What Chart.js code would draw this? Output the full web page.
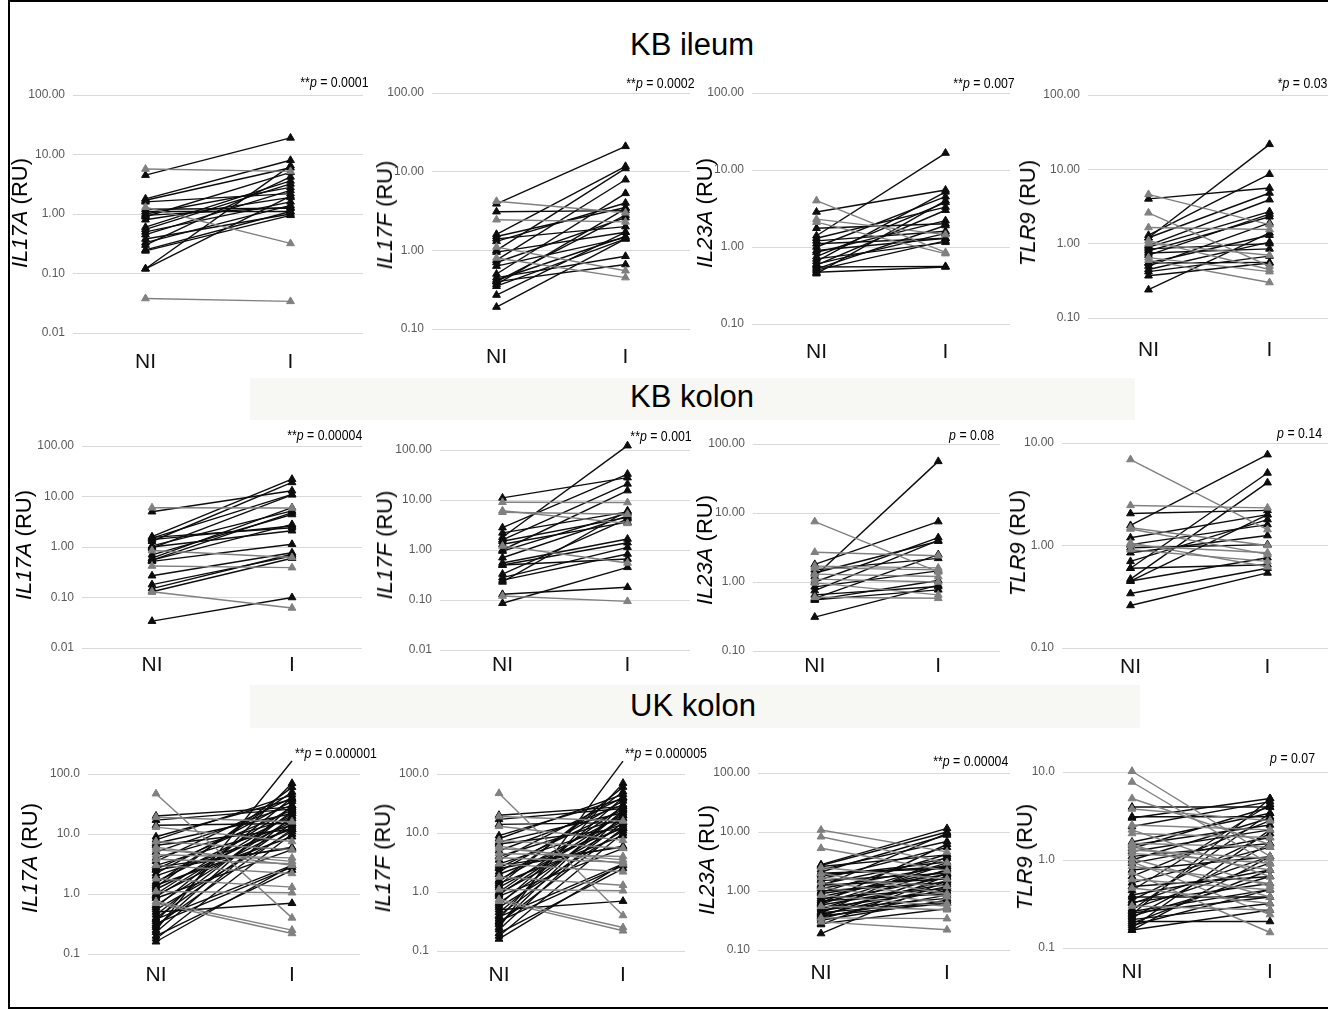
<!DOCTYPE html>
<html>
<head>
<meta charset="utf-8">
<title>IL17A, IL17F, IL23A, TLR9</title>
<script src="https://cdn.jsdelivr.net/npm/chart.js@4.4.1/dist/chart.umd.min.js"></script>
<style>
  html, body { margin: 0; padding: 0; background: #fff; }
  body { position: relative; width: 1328px; height: 1010px; overflow: hidden;
         font-family: "Liberation Sans", Arial, sans-serif; color: #000; }
  .frame { position: absolute; left: 8px; top: 0; width: 1400px; height: 1009px;
           border: 2px solid #000; box-sizing: border-box; }
  .band { position: absolute; background: #f7f7f3; }
  .title { position: absolute; transform: translate(-50%, -50%); font-size: 31px; white-space: nowrap; }
  .ytitle { position: absolute; transform: translate(-50%, -50%) rotate(-90deg);
            font-size: 22px; white-space: nowrap; }
  .pval { position: absolute; font-size: 14px; white-space: nowrap; }
  .pval.r { transform: translateY(-50%) scaleX(0.88); transform-origin: right center; }
  .pval.l { transform: translateY(-50%) scaleX(0.88); transform-origin: left center; }
  canvas { position: absolute; }
</style>
</head>
<body>
<div class="frame"></div>
<div class="band" style="left:250px;top:378px;width:885px;height:42px"></div>
<div class="band" style="left:250px;top:685px;width:890px;height:43px"></div>
<div class="title" style="left:692px;top:45px">KB ileum</div>
<div class="title" style="left:692px;top:397px">KB kolon</div>
<div class="title" style="left:693px;top:706px">UK kolon</div>

<script>
const conditions = ['NI', 'I'];

// y-axis decades
const decades5 = [0.01, 0.1, 1, 10, 100];
const decades4 = [0.1, 1, 10, 100];
const decades3 = [0.1, 1, 10];

const pValues = ['**p = 0.0001', '**p = 0.0002', '**p = 0.007', '*p = 0.03',
                 '**p = 0.00004', '**p = 0.001', 'p = 0.08', 'p = 0.14',
                 '**p = 0.000001', '**p = 0.000005', '**p = 0.00004', 'p = 0.07'];

// KB ileum
const ileumIL17A_NI = [4.5, 5.7, 1.8, 1.7, 1.6, 1.3, 1.1, 1.0, 0.95, 0.9, 0.8, 0.55, 0.5, 0.45, 0.38, 0.33, 0.3, 0.25, 0.24, 0.12, 0.12, 0.038, 1.2, 0.6];
const ileumIL17A_I  = [19, 5.2, 8.0, 6.0, 2.2, 0.32, 1.1, 2.8, 1.3, 5.0, 1.9, 3.2, 1.6, 2.5, 1.0, 1.4, 4.2, 1.1, 0.95, 6.5, 2.0, 0.034, 1.25, 3.6];

const ileumIL17F_NI = [3.9, 4.2, 3.1, 2.45, 1.6, 1.5, 1.4, 1.3, 1.1, 1.0, 0.95, 0.8, 0.75, 0.7, 0.63, 0.5, 0.45, 0.42, 0.4, 0.37, 0.35, 0.27, 0.19, 0.4];
const ileumIL17F_I  = [21, 3.0, 3.2, 2.3, 11.7, 3.5, 2.0, 4.0, 0.55, 11, 1.7, 0.45, 7.9, 2.6, 1.45, 5.3, 0.84, 1.5, 0.66, 3.4, 1.4, 1.7, 1.4, 2.8];

const ileumIL23A_NI = [1.4, 2.85, 4.0, 2.3, 2.1, 1.75, 1.3, 1.2, 1.0, 0.9, 0.85, 0.75, 0.7, 0.65, 0.6, 0.58, 0.52, 0.5, 0.47, 0.45, 0.55, 1.1];
const ileumIL23A_I  = [16.6, 5.5, 0.85, 1.45, 0.82, 2.0, 3.3, 1.6, 4.5, 1.3, 2.2, 3.8, 1.15, 5.2, 1.5, 3.0, 1.9, 1.2, 0.55, 4.0, 0.56, 1.3];

const ileumTLR9_NI = [1.2, 4.0, 4.6, 2.6, 1.65, 1.3, 1.2, 1.1, 0.95, 0.9, 0.85, 0.8, 0.75, 0.65, 0.6, 0.55, 0.55, 0.5, 0.45, 0.42, 0.37, 0.24, 0.7, 1.0];
const ileumTLR9_I  = [21.7, 5.6, 1.8, 0.5, 1.55, 8.6, 4.8, 0.45, 3.9, 2.7, 1.0, 2.3, 0.85, 0.42, 0.3, 1.3, 0.56, 1.9, 1.05, 0.68, 0.55, 1.4, 2.5, 0.7];

// KB kolon
const kbIL17A_NI = [5.0, 6.0, 1.6, 1.55, 1.5, 1.3, 1.05, 1.0, 0.95, 0.85, 0.7, 0.6, 0.55, 0.55, 0.52, 0.42, 0.27, 0.18, 0.15, 0.13, 0.13, 0.034, 1.4];
const kbIL17A_I  = [13, 5.9, 22, 2.4, 11, 19, 5.2, 2.1, 10.8, 0.62, 4.4, 6.0, 2.8, 4.8, 1.13, 0.39, 0.77, 0.66, 0.72, 0.6, 0.062, 0.1, 2.6];

const kbIL17F_NI = [11, 9.0, 6.1, 5.7, 2.8, 2.2, 1.8, 1.6, 1.5, 1.2, 1.0, 0.95, 0.7, 0.55, 0.5, 0.5, 0.33, 0.28, 0.25, 0.23, 0.13, 0.12, 0.086, 1.3];
const kbIL17F_I  = [28, 8.9, 3.4, 5.2, 33, 5.8, 122, 21, 4.5, 0.55, 15.4, 5.5, 4.8, 1.66, 0.66, 1.4, 4.2, 1.13, 0.83, 6.1, 0.18, 0.094, 0.45, 3.6];

const kbIL23A_NI = [1.2, 7.5, 2.7, 1.8, 1.7, 1.5, 1.35, 1.3, 1.1, 1.0, 0.97, 0.85, 0.75, 0.65, 0.6, 0.58, 0.55, 0.55, 0.31, 1.6];
const kbIL23A_I  = [56, 1.4, 2.4, 7.5, 1.6, 2.2, 3.9, 1.2, 1.0, 4.4, 0.65, 1.45, 4.0, 0.86, 0.58, 2.5, 1.05, 0.77, 0.9, 1.5];

const kbTLR9_NI = [6.9, 2.46, 2.05, 1.57, 1.49, 1.45, 1.19, 1.06, 1.02, 0.91, 0.85, 0.70, 0.6, 0.6, 0.47, 0.45, 0.45, 0.34, 0.26, 1.0, 0.95];
const kbTLR9_I  = [1.43, 2.33, 2.2, 7.7, 1.0, 0.82, 2.0, 0.62, 1.6, 0.7, 1.25, 1.79, 5.1, 0.65, 4.1, 2.0, 0.76, 0.6, 0.54, 0.85, 1.02];

// UK kolon
const ukIL17A_NI = [47, 20, 19, 17, 14, 13, 8, 7.5, 7, 6.5, 5.5, 5, 4.5, 4, 3.8, 3.5, 3, 3, 2.6, 2.5, 2.2, 2, 1.8, 1.6, 1.5, 1.4, 1.2, 1.1, 1.0, 0.95, 0.9, 0.85, 0.75, 0.7, 0.65, 0.6, 0.55, 0.5, 0.45, 0.4, 0.38, 0.35, 0.32, 0.3, 0.28, 0.25, 0.23, 0.2, 0.18, 0.16, 1.3, 2.8, 9, 6];
const ukIL17A_I  = [0.4, 28, 16, 26, 15, 7.5, 45, 5.5, 22, 12, 3.5, 30, 4.0, 18, 3.2, 40, 2.2, 14, 25, 6, 35, 12, 1.3, 20, 50, 9, 16, 1.05, 28, 13, 22, 5.5, 0.25, 0.22, 18, 40, 11, 0.7, 24, 15, 3, 70, 2.8, 12, 30, 165, 20, 2.5, 10, 3.0, 60, 5.8, 38, 3.0];

const ukIL17F_NI = [47, 20, 19, 17, 14, 13, 8, 7.5, 7, 6.5, 5.5, 5, 4.5, 4, 3.8, 3.5, 3, 3, 2.6, 2.5, 2.2, 2, 1.8, 1.6, 1.5, 1.4, 1.2, 1.1, 1.0, 0.95, 0.9, 0.85, 0.75, 0.7, 0.65, 0.6, 0.55, 0.5, 0.45, 0.4, 0.38, 0.35, 0.32, 0.3, 0.28, 0.25, 0.23, 0.2, 0.18, 0.16, 1.3, 2.8, 9, 6];
const ukIL17F_I  = [0.4, 28, 16, 26, 15, 7.5, 45, 5.5, 22, 12, 3.5, 30, 4.0, 18, 3.2, 40, 2.2, 14, 25, 6, 35, 12, 1.3, 20, 50, 9, 16, 1.05, 28, 13, 22, 5.5, 0.25, 0.22, 18, 40, 11, 0.7, 24, 15, 3, 70, 2.8, 12, 30, 165, 20, 2.5, 10, 3.0, 60, 5.8, 38, 3.0];

const ukIL23A_NI = [10.8, 8.3, 5.3, 2.8, 2.7, 2.6, 2.5, 2.3, 2.1, 2.0, 2.0, 1.8, 1.7, 1.6, 1.5, 1.4, 1.3, 1.25, 1.2, 1.1, 1.0, 0.95, 0.9, 0.85, 0.8, 0.75, 0.7, 0.68, 0.65, 0.6, 0.58, 0.55, 0.52, 0.5, 0.48, 0.45, 0.43, 0.42, 0.4, 0.38, 0.37, 0.36, 0.35, 0.34, 0.32, 0.3, 0.28, 0.27, 0.19, 1.9, 1.15, 0.62];
const ukIL23A_I  = [4.6, 3.0, 2.2, 11.5, 10, 4.1, 1.6, 6.9, 8.9, 2.4, 0.9, 3.1, 1.2, 5.5, 2.0, 0.8, 3.6, 1.6, 9.5, 2.6, 1.4, 4.2, 1.9, 0.55, 2.2, 1.1, 3.0, 0.9, 1.7, 2.8, 1.3, 0.48, 1.0, 2.3, 0.75, 1.5, 0.65, 3.8, 1.2, 0.62, 2.0, 0.85, 0.34, 1.1, 0.7, 0.22, 0.5, 1.8, 1.5, 2.6, 0.62, 6.2];

const ukTLR9_NI = [10.2, 7.7, 5.0, 4.0, 3.8, 3.1, 3.0, 2.5, 2.4, 2.2, 2.0, 1.6, 1.55, 1.5, 1.48, 1.4, 1.35, 1.3, 1.25, 1.19, 1.1, 1.04, 1.0, 0.95, 0.92, 0.85, 0.77, 0.72, 0.65, 0.6, 0.55, 0.5, 0.48, 0.45, 0.4, 0.38, 0.35, 0.33, 0.32, 0.3, 0.28, 0.27, 0.26, 0.25, 0.24, 0.23, 0.22, 0.21, 0.2, 0.19, 0.18, 0.17, 0.16, 0.16];
const ukTLR9_I  = [1.1, 0.9, 1.5, 4.0, 2.8, 3.1, 5.0, 2.2, 4.6, 0.65, 1.8, 3.4, 1.4, 0.5, 2.5, 0.77, 4.0, 1.04, 2.2, 0.92, 1.54, 0.38, 3.0, 0.24, 1.8, 0.54, 1.09, 0.15, 2.8, 0.46, 1.4, 0.65, 0.32, 4.3, 0.77, 0.38, 2.0, 0.54, 1.1, 0.27, 0.92, 3.4, 0.46, 0.38, 5.0, 0.65, 1.54, 0.32, 0.2, 0.77, 0.46, 2.2, 1.09, 0.27];

const FONT = '"Liberation Sans", Arial, sans-serif';
const BLACK = '#0d0d0d';
const GREY = '#808080';

// box = plot area [left, top gridline, right, bottom gridline], catY = centre of NI / I labels
const panels = [
  {gene: 'IL17A', ni: ileumIL17A_NI, inf: ileumIL17A_I, ticks: decades5, digits: 2, box: [73, 95, 363, 333], catY: 362, yt: [20, 213], p: {right: 368, y: 82}},
  {gene: 'IL17F', ni: ileumIL17F_NI, inf: ileumIL17F_I, ticks: decades4, digits: 2, box: [432, 93, 690, 329], catY: 357, yt: [385, 215], p: {right: 694, y: 83}},
  {gene: 'IL23A', ni: ileumIL23A_NI, inf: ileumIL23A_I, ticks: decades4, digits: 2, box: [752, 93, 1010, 324], catY: 352, yt: [705, 213], p: {right: 1015, y: 83}},
  {gene: 'TLR9', ni: ileumTLR9_NI, inf: ileumTLR9_I, ticks: decades4, digits: 2, box: [1088, 95, 1330, 318], catY: 350, yt: [1028, 213], p: {right: 1327, y: 83}},
  {gene: 'IL17A', ni: kbIL17A_NI, inf: kbIL17A_I, ticks: decades5, digits: 2, box: [82, 446, 362, 648], catY: 665, yt: [24, 545], p: {right: 362, y: 435}},
  {gene: 'IL17F', ni: kbIL17F_NI, inf: kbIL17F_I, ticks: decades5, digits: 2, box: [440, 450, 690, 650], catY: 665, yt: [385, 545], p: {right: 692, y: 436}},
  {gene: 'IL23A', ni: kbIL23A_NI, inf: kbIL23A_I, ticks: decades4, digits: 2, box: [753, 444, 1000, 651], catY: 666, yt: [705, 550], p: {right: 994, y: 435}},
  {gene: 'TLR9', ni: kbTLR9_NI, inf: kbTLR9_I, ticks: decades3, digits: 2, box: [1062, 443, 1336, 648], catY: 667, yt: [1018, 543], p: {right: 1322, y: 433}},
  {gene: 'IL17A', ni: ukIL17A_NI, inf: ukIL17A_I, ticks: decades4, digits: 1, box: [88, 774, 360, 954], catY: 975, yt: [30, 858], p: {left: 295, y: 753}},
  {gene: 'IL17F', ni: ukIL17F_NI, inf: ukIL17F_I, ticks: decades4, digits: 1, box: [437, 774, 685, 951], catY: 975, yt: [383, 858], p: {left: 625, y: 753}},
  {gene: 'IL23A', ni: ukIL23A_NI, inf: ukIL23A_I, ticks: decades4, digits: 2, box: [758, 773, 1010, 950], catY: 973, yt: [707, 860], p: {right: 1008, y: 761}},
  {gene: 'TLR9', ni: ukTLR9_NI, inf: ukTLR9_I, ticks: decades3, digits: 1, box: [1063, 772, 1339, 948], catY: 972, yt: [1025, 857], p: {right: 1315, y: 758}}
];

function addText(cls, html, css) {
  const el = document.createElement('div');
  el.className = cls;
  el.innerHTML = html;
  el.style.cssText = css;
  document.body.appendChild(el);
}

function pLabel(text) {
  // italic p, stars and value upright
  return text.replace('p', '<i>p</i>');
}

function drawPanel(cfg, idx) {
  const padL = 60, padR = 12, padT = 40, padB = 50;
  const [L, T, R, B] = cfg.box;
  const w = R - L + padL + padR;
  const h = B - T + padT + padB;

  const canvas = document.createElement('canvas');
  canvas.width = w;
  canvas.height = h;
  canvas.style.left = (L - padL) + 'px';
  canvas.style.top = (T - padT) + 'px';
  document.body.appendChild(canvas);

  // one dataset per patient; falling pairs grey and underneath
  const pairs = cfg.ni.map((v, i) => [v, cfg.inf[i]]);
  const ordered = pairs.filter(d => d[1] < d[0]).concat(pairs.filter(d => d[1] >= d[0]));
  const datasets = ordered.map(d => {
    const c = d[1] < d[0] ? GREY : BLACK;
    return {
      data: d,
      borderColor: c,
      backgroundColor: c,
      pointBackgroundColor: c,
      pointBorderColor: c,
      borderWidth: 1.4,
      pointStyle: 'triangle',
      pointRadius: 4.5,
      pointBorderWidth: 1,
      tension: 0,
      fill: false,
      clip: false
    };
  });

  new Chart(canvas, {
    type: 'line',
    data: {labels: conditions, datasets: datasets},
    options: {
      responsive: false,
      animation: false,
      events: [],
      layout: {padding: {top: padT, right: padR, left: 0, bottom: 0}},
      plugins: {legend: {display: false}, tooltip: {enabled: false}},
      scales: {
        x: {
          type: 'category',
          offset: true,
          grid: {display: false},
          border: {display: false},
          ticks: {color: '#111', font: {family: FONT, size: 21}, padding: cfg.catY - B - 20,
                  maxRotation: 0, autoSkip: false},
          afterFit: s => { s.height = padB; }
        },
        y: {
          type: 'logarithmic',
          min: cfg.ticks[0],
          max: cfg.ticks[cfg.ticks.length - 1],
          afterBuildTicks: s => { s.ticks = cfg.ticks.map(v => ({value: v})); },
          ticks: {callback: v => Number(v).toFixed(cfg.digits), color: '#595959',
                  font: {family: FONT, size: 12}, padding: 8},
          grid: {color: '#d9d9d9', lineWidth: 1, drawTicks: false},
          border: {display: false},
          afterFit: s => { s.width = padL; }
        }
      }
    }
  });

  addText('ytitle', '<i>' + cfg.gene + '</i> (RU)', `left:${cfg.yt[0]}px;top:${cfg.yt[1]}px`);
  const side = cfg.p.right !== undefined ? 'r' : 'l';
  const pos = side === 'r' ? `right:${1328 - cfg.p.right}px` : `left:${cfg.p.left}px`;
  addText('pval ' + side, pLabel(pValues[idx]), `${pos};top:${cfg.p.y}px`);
}

panels.forEach(drawPanel);
</script>
</body>
</html>
